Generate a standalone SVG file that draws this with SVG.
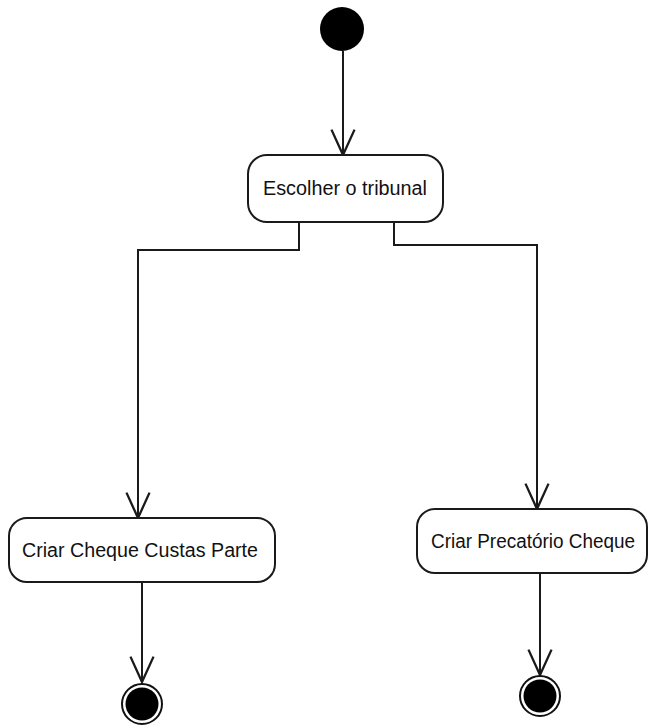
<svg xmlns="http://www.w3.org/2000/svg" width="650" height="726" viewBox="0 0 650 726">
  <style>
    .action { fill: #ffffff; stroke: #1a1a1a; stroke-width: 2; }
    .label { font-family: "Liberation Sans", Arial, sans-serif; font-size: 20px; fill: #111111; text-anchor: middle; }
    .flow { fill: none; stroke: #1a1a1a; stroke-width: 2; }
    .final-ring { fill: #ffffff; stroke: #111111; stroke-width: 2; }
  </style>
  <defs>
    <marker id="open-arrow" markerUnits="userSpaceOnUse" markerWidth="30" markerHeight="30" viewBox="-24 -12 26 24" refX="0" refY="0" orient="auto">
      <path d="M-22,-10 L0,0 L-22,10" fill="none" stroke="#1a1a1a" stroke-width="2"/>
    </marker>
  </defs>
  <rect width="650" height="726" fill="#ffffff"/>

  <!-- control flows -->
  <g id="connectors">
    <path class="flow" d="M343 51 V155" marker-end="url(#open-arrow)"/>
    <path class="flow" d="M299 222 V250 H138 V518" marker-end="url(#open-arrow)"/>
    <path class="flow" d="M394 222 V245 H537 V509" marker-end="url(#open-arrow)"/>
    <path class="flow" d="M142 582 V682" marker-end="url(#open-arrow)"/>
    <path class="flow" d="M540 573 V675" marker-end="url(#open-arrow)"/>
  </g>

  <!-- initial node -->
  <g id="start">
    <circle cx="342" cy="29" r="22" fill="#000000"/>
  </g>

  <g id="escolher-tribunal">
    <rect class="action" x="248" y="155" width="195" height="67" rx="19" ry="19"/>
    <text class="label" x="345" y="195" textLength="164" lengthAdjust="spacingAndGlyphs">Escolher o tribunal</text>
  </g>

  <g id="criar-cheque-custas">
    <rect class="action" x="9" y="518" width="266" height="64" rx="18" ry="18"/>
    <text class="label" x="140" y="557" textLength="236" lengthAdjust="spacingAndGlyphs">Criar Cheque Custas Parte</text>
  </g>

  <g id="criar-precatorio">
    <rect class="action" x="417" y="509" width="230" height="64" rx="18" ry="18"/>
    <text class="label" x="533" y="548" font-size="19" textLength="204" lengthAdjust="spacingAndGlyphs">Criar Precatório Cheque</text>
  </g>

  <!-- final nodes -->
  <g id="end-left">
    <circle class="final-ring" cx="142" cy="704" r="20"/>
    <circle cx="142" cy="704" r="16.5" fill="#000000"/>
  </g>

  <g id="end-right">
    <circle class="final-ring" cx="540" cy="696" r="20"/>
    <circle cx="540" cy="696" r="16.5" fill="#000000"/>
  </g>
</svg>
